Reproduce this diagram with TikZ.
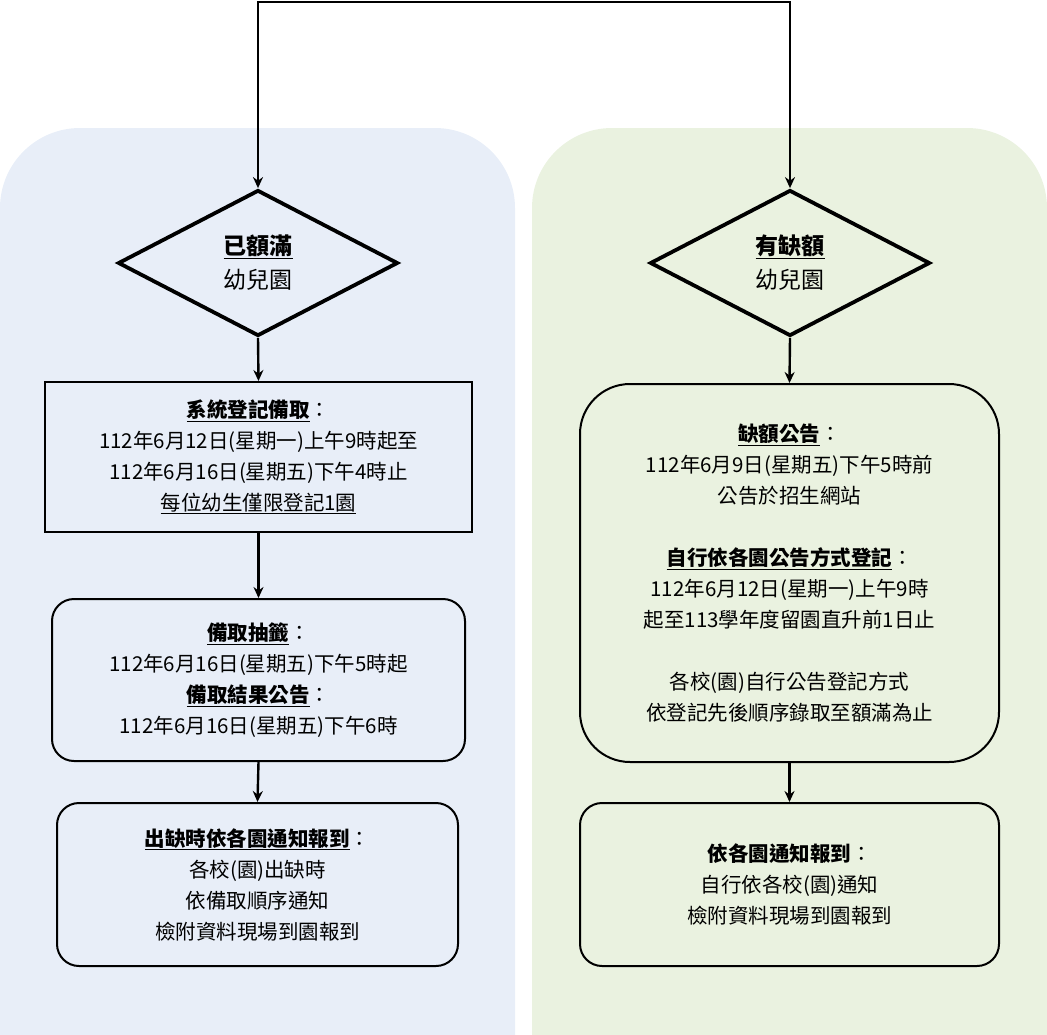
\documentclass[tikz,border=0pt]{standalone}
\usepackage{fontspec}
\setmainfont{Noto Sans CJK TC}
\usetikzlibrary{shapes.geometric,arrows.meta}
\definecolor{bgblue}{HTML}{E8EEF8}
\definecolor{bggreen}{HTML}{EAF2E0}
\definecolor{boxblue}{HTML}{E8EEF8}
\definecolor{boxgreen}{HTML}{EAF2E0}
\begin{document}
\begin{tikzpicture}[x=1pt,y=-1pt,
  arr/.style={-{Stealth[length=11pt,width=10pt]},line width=2.4pt},
  dia/.style={diamond,draw,line width=3.8pt,minimum width=280pt,minimum height=146pt,inner sep=0pt,align=center,font=\fontsize{23}{34}\selectfont},
  box/.style={draw,line width=2pt,align=center,font=\fontsize{20.5}{31}\selectfont,inner sep=0pt}]
\useasboundingbox (0,0) rectangle (1047,1034);
\fill[bgblue,rounded corners=80pt] (0,1120) rectangle (515,128);
\fill[bggreen,rounded corners=80pt] (532,1120) rectangle (1047,128);
\node[dia,fill=boxblue] (d1) at (258,263) {\textbf{\underline{已額滿}}\\幼兒園};
\node[dia,fill=boxgreen] (d2) at (790,263) {\textbf{\underline{有缺額}}\\幼兒園};
\node[box,fill=boxblue,minimum width=427pt,minimum height=150pt] (l1) at (258.5,457) {\textbf{\underline{系統登記備取}}：\\112年6月12日(星期一)上午9時起至\\112年6月16日(星期五)下午4時止\\\underline{每位幼生僅限登記1園}};
\node[box,fill=boxblue,rounded corners=22pt,minimum width=413pt,minimum height=162pt] (l2) at (258.5,680) {\textbf{\underline{備取抽籤}}：\\112年6月16日(星期五)下午5時起\\\textbf{\underline{備取結果公告}}：\\112年6月16日(星期五)下午6時};
\node[box,fill=boxblue,rounded corners=22pt,minimum width=401pt,minimum height=163pt] (l3) at (257.5,884.5) {\textbf{\underline{出缺時依各園通知報到}}：\\各校(園)出缺時\\依備取順序通知\\檢附資料現場到園報到};
\node[box,fill=boxgreen,rounded corners=50pt,minimum width=419pt,minimum height=378pt] (r1) at (789.5,573) {\textbf{\underline{缺額公告}}：\\112年6月9日(星期五)下午5時前\\公告於招生網站\\[31pt]\textbf{\underline{自行依各園公告方式登記}}：\\112年6月12日(星期一)上午9時\\起至113學年度留園直升前1日止\\[31pt]各校(園)自行公告登記方式\\依登記先後順序錄取至額滿為止};
\node[box,fill=boxgreen,rounded corners=22pt,minimum width=419pt,minimum height=163pt] (r2) at (789.5,884.5) {\textbf{依各園通知報到}：\\自行依各校(園)通知\\檢附資料現場到園報到};
\coordinate (top) at (524,2);
\draw[arr,{Stealth[length=11pt,width=10pt]}-{Stealth[length=11pt,width=10pt]}] (d1.north) |- (top) -| (d2.north);
\draw[arr] (d1.south) -- (l1.north);
\draw[arr] (l1.south) -- (l2.north);
\draw[arr] (l2.south) -- (l3.north);
\draw[arr] (d2.south) -- (r1.north);
\draw[arr] (r1.south) -- (r2.north);
\end{tikzpicture}
\end{document}
